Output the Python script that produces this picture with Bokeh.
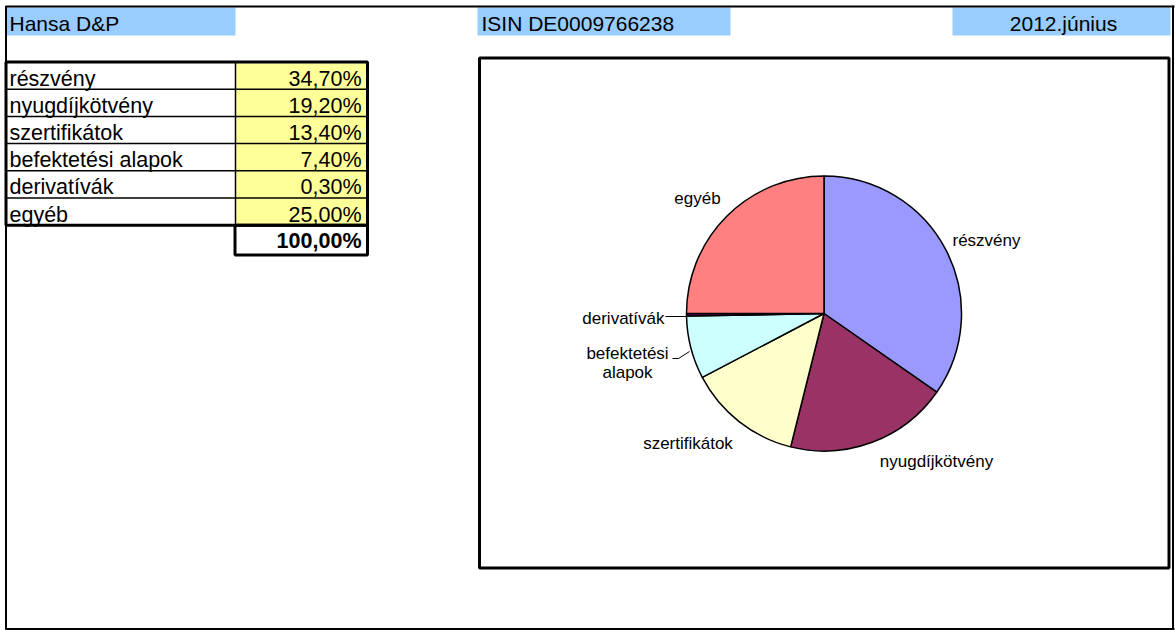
import math
from bokeh.plotting import figure
from bokeh.models import Range1d, ColumnDataSource
from bokeh.core.properties import value
from bokeh.embed import file_html
from bokeh.resources import INLINE

# ---------------- data ----------------
fund_name = "Hansa D&P"
isin_label = "ISIN DE0009766238"
period_label = "2012.június"
categories = ["részvény", "nyugdíjkötvény", "szertifikátok",
              "befektetési alapok", "derivatívák", "egyéb"]
shares = [34.70, 19.20, 13.40, 7.40, 0.30, 25.00]
slice_colors = ["#9999FF", "#993366", "#FFFFCC", "#CCFFFF", "#660066", "#FF8080"]
pie_label_lines = [["részvény"], ["nyugdíjkötvény"], ["szertifikátok"],
                   ["befektetési", "alapok"], ["derivatívák"], ["egyéb"]]


def hu_pct(v):
    return f"{v:.2f}%".replace(".", ",")


value_labels = [hu_pct(v) for v in shares]
total_label = hu_pct(sum(shares))

# ---------------- layout ----------------
W, H = 1175, 630
FONT = value("Liberation Sans")
HEAD, BIG, SMALL = 21, 21.5, 17


def Y(v):
    return -v


def TB(baseline, size):
    # empirical correction so that the glyph baseline lands on `baseline`
    return Y(baseline - 0.22 * size)


p = figure(width=W, height=H,
           x_range=Range1d(0, W), y_range=Range1d(-H, 0),
           output_backend="svg", toolbar_location=None,
           x_axis_location=None, y_axis_location=None, min_border=0)
p.grid.visible = False
p.outline_line_color = None
p.background_fill_color = "white"
p.border_fill_color = "white"

# header cells
p.quad(left=[6, 477, 952], right=[235, 730, 1170], top=[Y(7)] * 3, bottom=[Y(35)] * 3,
       fill_color="#99CCFF", line_color=None)
p.text(x=[9, 481], y=[TB(28, HEAD)] * 2, text=[fund_name, isin_label], text_font=FONT,
       text_font_size=f"{HEAD}px", text_align="left", text_baseline="alphabetic", text_color="black")
p.text(x=[1063], y=[TB(27.5, HEAD)], text=[period_label], text_font=FONT,
       text_font_size=f"{HEAD}px", text_align="center", text_baseline="alphabetic", text_color="black")

# page border
p.line(x=[5.5, 5.5], y=[Y(5.5), Y(629)], line_color="black", line_width=2)
p.line(x=[5, 1174], y=[Y(6), Y(6)], line_color="black", line_width=2)
p.line(x=[1172.5, 1172.5], y=[Y(5), Y(629)], line_color="black", line_width=2)
p.line(x=[5, 1174], y=[Y(628.5), Y(628.5)], line_color="black", line_width=2)

# table
ROW_TOP0, ROW_H = 61.5, 27.2
tops = [ROW_TOP0 + ROW_H * i for i in range(len(categories))]
bots = [t + ROW_H for t in tops]
p.quad(left=[235] * len(tops), right=[367] * len(tops), top=[Y(t) for t in tops],
       bottom=[Y(b) for b in bots], fill_color="#FFFF99", line_color=None)
p.segment(x0=[5] * (len(tops) - 1), x1=[368] * (len(tops) - 1),
          y0=[Y(b) for b in bots[:-1]], y1=[Y(b) for b in bots[:-1]],
          line_color="black", line_width=1.5)
p.segment(x0=[235], x1=[235], y0=[Y(tops[0])], y1=[Y(bots[-1])], line_color="black", line_width=1.5)
p.quad(left=[5.5], right=[367], top=[Y(tops[0])], bottom=[Y(bots[-1])],
       fill_color=None, line_color="black", line_width=3)

tsrc = ColumnDataSource(dict(cat=categories, val=value_labels,
                             y=[TB(t + 21.3, BIG) for t in tops]))
p.text(x=9, y="y", text="cat", source=tsrc, text_font=FONT, text_font_size=f"{BIG}px",
       text_align="left", text_baseline="alphabetic", text_color="black")
p.text(x=361, y="y", text="val", source=tsrc, text_font=FONT, text_font_size=f"{BIG}px",
       text_align="right", text_baseline="alphabetic", text_color="black")

# total cell
p.quad(left=[234.5], right=[367], top=[Y(bots[-1])], bottom=[Y(254.5)],
       fill_color=None, line_color="black", line_width=3)
p.text(x=[361], y=[TB(245.5, BIG)], text=[total_label], text_font=FONT, text_font_size=f"{BIG}px",
       text_font_style="bold", text_align="right", text_baseline="alphabetic", text_color="black")

# chart frame
p.quad(left=[479], right=[1168.5], top=[Y(57.5)], bottom=[Y(567.5)],
       fill_color="white", line_color="black", line_width=3)

# pie
CX, CY, R = 823.5, 313.0, 137.5
total = sum(shares)
starts, ends = [], []
cum = 0.0
for s in shares:
    starts.append(math.pi / 2 - 2 * math.pi * cum / total)
    cum += s
    ends.append(math.pi / 2 - 2 * math.pi * cum / total)
psrc = ColumnDataSource(dict(cat=categories, share=shares, start=starts, end=ends, color=slice_colors))
p.wedge(x=CX, y=Y(CY), radius=R, start_angle="start", end_angle="end", direction="clock",
        fill_color="color", line_color="black", line_width=1.5, source=psrc)

# pie labels (layout anchors: x, first baseline, alignment)
label_anchor = [(952, 244, "left"), (936, 464.5, "center"), (687.5, 446.5, "center"),
                (627, 356.5, "center"), (664, 321.5, "right"), (697, 202, "center")]
lx, ly, lt, la = [], [], [], []
for lines, (ax, ay, al) in zip(pie_label_lines, label_anchor):
    for k, line in enumerate(lines):
        lx.append(ax)
        ly.append(TB(ay + 19 * k, SMALL))
        lt.append(line)
        la.append(al)
lsrc = ColumnDataSource(dict(x=lx, y=ly, t=lt, a=la))
p.text(x="x", y="y", text="t", text_align="a", source=lsrc, text_font=FONT,
       text_font_size=f"{SMALL}px", text_baseline="alphabetic", text_color="black")

# leader lines
p.multi_line(xs=[[665, 686], [672, 678, 689]], ys=[[Y(316), Y(316)], [Y(358), Y(358), Y(351)]],
             line_color="black", line_width=1)

open("out.html", "w").write(file_html(p, INLINE))
